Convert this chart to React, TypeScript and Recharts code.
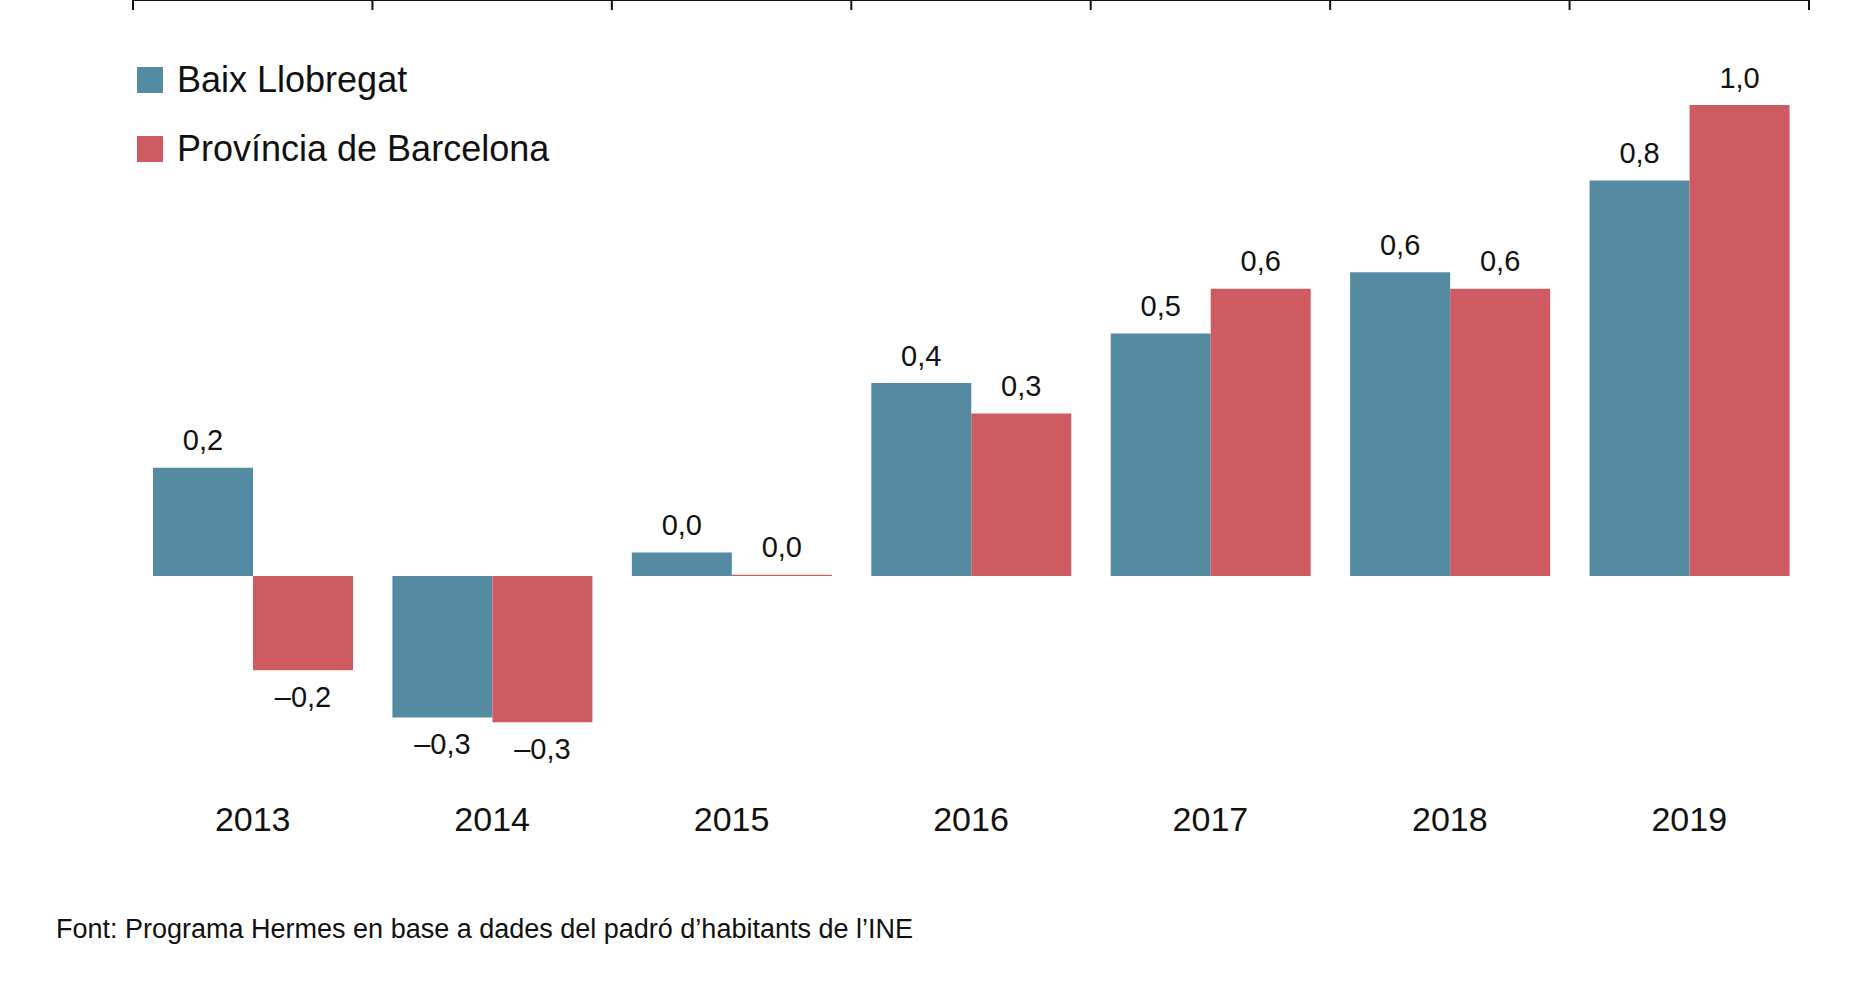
import { BarChart, Bar, XAxis, YAxis, ReferenceLine, LabelList } from "recharts";

const years = ["2013", "2014", "2015", "2016", "2017", "2018", "2019"];
const baix = [0.23, -0.3, 0.05, 0.41, 0.515, 0.645, 0.84];
const prov = [-0.2, -0.31, 0.003, 0.345, 0.61, 0.61, 1.0];
const baixLabels = ["0,2", "–0,3", "0,0", "0,4", "0,5", "0,6", "0,8"];
const provLabels = ["–0,2", "–0,3", "0,0", "0,3", "0,6", "0,6", "1,0"];

const data = years.map((y, i) => ({ year: y, baix: baix[i], prov: prov[i], bl: baixLabels[i], pl: provLabels[i] }));

const TEAL = "#548ba1";
const RED = "#cd5b61";
const FONT = "'Liberation Sans', Arial, sans-serif";

const makeLabel = (vals: number[], texts: string[]) => (props: any) => {
  const { x, y, width, height, index } = props;
  const v = vals[index];
  const cx = x + width / 2;
  const top = Math.min(y, y + height);
  const bottom = Math.max(y, y + height);
  const ty = v < 0 ? bottom + 29 : top - 25;
  return (
    <text x={cx} y={ty} textAnchor="middle" dominantBaseline="middle" fontSize={29} fontFamily={FONT} fill="#111">
      {texts[index]}
    </text>
  );
};

const ZeroAxis = (props: any) => {
  const { x1, x2, y } = props;
  const n = years.length;
  const step = (x2 - x1) / n;
  return (
    <g>
      <line x1={x1} x2={x2} y1={y} y2={y} stroke="#111" strokeWidth={2} />
      {Array.from({ length: n + 1 }, (_, i) => (
        <line key={i} x1={x1 + i * step} x2={x1 + i * step} y1={y} y2={y + 10} stroke="#111" strokeWidth={2} />
      ))}
    </g>
  );
};

export default function App() {
  return (
    <div style={{ position: "absolute", left: 0, top: 0, width: 1854, height: 998, background: "#fff", fontFamily: FONT }}>
      <BarChart
        width={1854}
        height={880}
        data={data}
        margin={{ top: 105, right: 45, bottom: 0, left: 133 }}
        barGap={0}
        barCategoryGap={20}
      >
        <YAxis hide domain={[-0.35, 1.0]} />
        <XAxis
          dataKey="year"
          axisLine={false}
          tickLine={false}
          tickMargin={60}
          height={139}
          tick={{ fontSize: 34, fill: "#111", fontFamily: FONT }}
        />
        <Bar dataKey="baix" fill={TEAL} isAnimationActive={false}>
          <LabelList dataKey="bl" content={makeLabel(baix, baixLabels)} />
        </Bar>
        <Bar dataKey="prov" fill={RED} isAnimationActive={false}>
          <LabelList dataKey="pl" content={makeLabel(prov, provLabels)} />
        </Bar>
        <ReferenceLine y={0} shape={ZeroAxis} />
      </BarChart>
      <div style={{ position: "absolute", left: 137, top: 59, display: "flex", alignItems: "center", fontSize: 36, color: "#111" }}>
        <span style={{ width: 26, height: 26, background: TEAL, marginRight: 14 }} />Baix Llobregat
      </div>
      <div style={{ position: "absolute", left: 137, top: 128, display: "flex", alignItems: "center", fontSize: 36, color: "#111" }}>
        <span style={{ width: 26, height: 26, background: RED, marginRight: 14 }} />Província de Barcelona
      </div>
      <div style={{ position: "absolute", left: 56, top: 914, fontSize: 27, color: "#111" }}>
        Font: Programa Hermes en base a dades del padró d’habitants de l’INE
      </div>
    </div>
  );
}
